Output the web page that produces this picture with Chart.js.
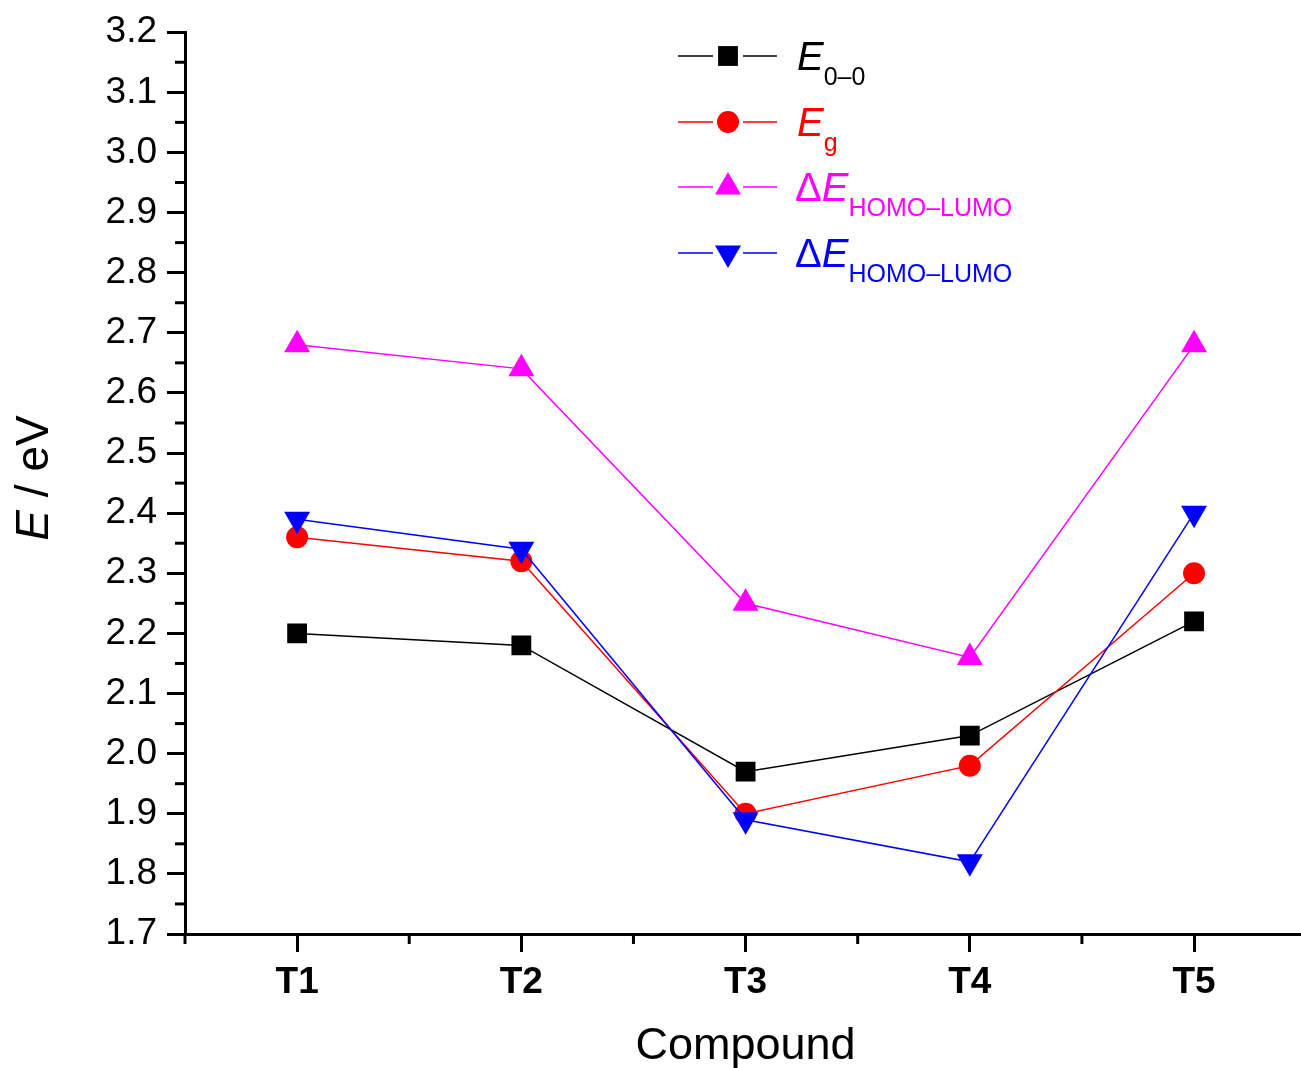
<!DOCTYPE html>
<html><head><meta charset="utf-8">
<script src="https://cdn.jsdelivr.net/npm/chart.js@4.4.0/dist/chart.umd.min.js"></script>
<style>html,body{margin:0;padding:0;background:#fff;overflow:hidden;}#wrap{width:1301px;height:1068px;position:relative;}canvas{display:block;}</style>
</head><body><div id="wrap"><canvas id="c" width="1301" height="1068"></canvas></div>
<script>
// ---- data ----
const categories = ['T1', 'T2', 'T3', 'T4', 'T5'];
const e00 = [2.20, 2.18, 1.97, 2.03, 2.22];
const eg = [2.36, 2.32, 1.90, 1.98, 2.30];
const dEmagenta = [2.68, 2.64, 2.25, 2.16, 2.68];
const dEblue = [2.39, 2.34, 1.89, 1.82, 2.40];
const legendPrefix = ['', '', 'Δ', 'Δ'];
const legendMain = ['E', 'E', 'E', 'E'];
const legendSub = ['0–0', 'g', 'HOMO–LUMO', 'HOMO–LUMO'];
const yTitleMain = 'E';
const yTitleRest = ' / eV';
const xTitle = 'Compound';

const FONT = '"Liberation Sans", Arial, sans-serif';
const colors = ['#000000', '#ff0000', '#ff00ff', '#0000ff'];
const styles = [
  {pointStyle: 'rect', radius: 14, rotation: 0},
  {pointStyle: 'circle', radius: 11, rotation: 0},
  {pointStyle: 'triangle', radius: 15, rotation: 0},
  {pointStyle: 'triangle', radius: 15, rotation: 180}
];
const series = [e00, eg, dEmagenta, dEblue];

function mk(i) {
  return {
    label: legendMain[i] + legendSub[i],
    data: series[i].map((v, k) => ({x: k + 1, y: v})),
    borderColor: colors[i],
    backgroundColor: colors[i],
    pointBackgroundColor: colors[i],
    pointBorderColor: colors[i],
    pointBorderWidth: 0,
    borderWidth: 1.5,
    pointStyle: styles[i].pointStyle,
    pointRadius: styles[i].radius,
    pointRotation: styles[i].rotation,
    pointHoverRadius: styles[i].radius,
    tension: 0,
    order: 4 - i
  };
}

function drawMarker(ctx, st, x, y, color) {
  ctx.fillStyle = color;
  ctx.beginPath();
  const r = st.radius;
  if (st.pointStyle === 'rect') {
    const s = Math.SQRT1_2 * r;
    ctx.rect(x - s, y - s, 2 * s, 2 * s);
  } else if (st.pointStyle === 'circle') {
    ctx.arc(x, y, r, 0, Math.PI * 2);
  } else {
    const sgn = st.rotation === 180 ? -1 : 1;
    ctx.moveTo(x, y - sgn * r);
    ctx.lineTo(x + 0.866 * r, y + sgn * 0.5 * r);
    ctx.lineTo(x - 0.866 * r, y + sgn * 0.5 * r);
    ctx.closePath();
  }
  ctx.fill();
}

const decor = {
  id: 'decor',
  afterDraw(chart) {
    const ctx = chart.ctx, xs = chart.scales.x, ys = chart.scales.y, ca = chart.chartArea;
    ctx.save();
    // minor ticks
    ctx.strokeStyle = '#000'; ctx.lineWidth = 3; ctx.lineCap = 'butt';
    for (let k = 0; k < 15; k++) {
      const v = 1.75 + k * 0.1;
      const p = ys.getPixelForValue(v);
      ctx.beginPath(); ctx.moveTo(ca.left - 10, p); ctx.lineTo(ca.left, p); ctx.stroke();
    }
    for (let k = 0; k < 5; k++) {
      const v = 0.5 + k;
      const p = xs.getPixelForValue(v);
      ctx.beginPath(); ctx.moveTo(p, ca.bottom); ctx.lineTo(p, ca.bottom + 10); ctx.stroke();
    }
    // legend
    const rows = [56, 122, 187, 253];
    for (let i = 0; i < 4; i++) {
      const y = rows[i];
      ctx.strokeStyle = colors[i]; ctx.lineWidth = 1.5;
      ctx.beginPath(); ctx.moveTo(678, y); ctx.lineTo(713, y); ctx.moveTo(743, y); ctx.lineTo(777, y); ctx.stroke();
      drawMarker(ctx, styles[i], 728, y, colors[i]);
      ctx.fillStyle = colors[i];
      ctx.textBaseline = 'alphabetic'; ctx.textAlign = 'left';
      let x = 797;
      const base = y + 14;
      if (legendPrefix[i]) {
        ctx.font = '40px ' + FONT;
        ctx.fillText(legendPrefix[i], x - 2, base);
        x += ctx.measureText(legendPrefix[i]).width - 2;
      }
      ctx.font = 'italic 40px ' + FONT;
      ctx.fillText(legendMain[i], x, base);
      x += ctx.measureText(legendMain[i]).width;
      ctx.font = '25px ' + FONT;
      ctx.fillText(legendSub[i], x, base + 15);
    }
    // axis titles
    ctx.fillStyle = '#000';
    ctx.font = '45px ' + FONT;
    ctx.textAlign = 'center'; ctx.textBaseline = 'alphabetic';
    ctx.fillText(xTitle, xs.getPixelForValue(3), 1059);
    ctx.save();
    ctx.translate(48, 478);
    ctx.rotate(-Math.PI / 2);
    ctx.textAlign = 'left';
    ctx.font = 'italic 46px ' + FONT;
    const w1 = ctx.measureText(yTitleMain).width;
    ctx.font = '46px ' + FONT;
    const w2 = ctx.measureText(yTitleRest).width;
    const sx = -(w1 + w2) / 2;
    ctx.font = 'italic 46px ' + FONT;
    ctx.fillText(yTitleMain, sx, 0);
    ctx.font = '46px ' + FONT;
    ctx.fillText(yTitleRest, sx + w1, 0);
    ctx.restore();
    ctx.restore();
  }
};

new Chart(document.getElementById('c'), {
  type: 'line',
  data: {datasets: [mk(0), mk(1), mk(2), mk(3)]},
  options: {
    responsive: false,
    animation: false,
    events: [],
    layout: {autoPadding: false, padding: {top: 30, left: 0, right: 0, bottom: 0}},
    plugins: {legend: {display: false}, tooltip: {enabled: false}},
    scales: {
      x: {
        type: 'linear', min: 0.5, max: 5.477,
        afterBuildTicks(s) { s.ticks = categories.map((c, i) => ({value: i + 1})); },
        afterFit(s) { s.height = 134; s.paddingLeft = 0; s.paddingRight = 0; },
        ticks: {
          callback: (v) => categories[Math.round(v) - 1] || '',
          font: {family: FONT, size: 37, weight: 'bold'}, color: '#000', padding: 9,
          autoSkip: false, maxRotation: 0
        },
        grid: {drawOnChartArea: false, drawTicks: true, tickLength: 18, tickWidth: 3, tickColor: '#000'},
        border: {display: true, width: 3, color: '#000'}
      },
      y: {
        min: 1.7, max: 3.2,
        afterFit(s) { s.width = 185; },
        ticks: {
          stepSize: 0.1,
          callback: (v) => Number(v).toFixed(1),
          font: {family: FONT, size: 37}, color: '#000', padding: 10
        },
        grid: {drawOnChartArea: false, drawTicks: true, tickLength: 18, tickWidth: 3, tickColor: '#000'},
        border: {display: true, width: 3, color: '#000'}
      }
    }
  },
  plugins: [decor]
});
</script></body></html>
